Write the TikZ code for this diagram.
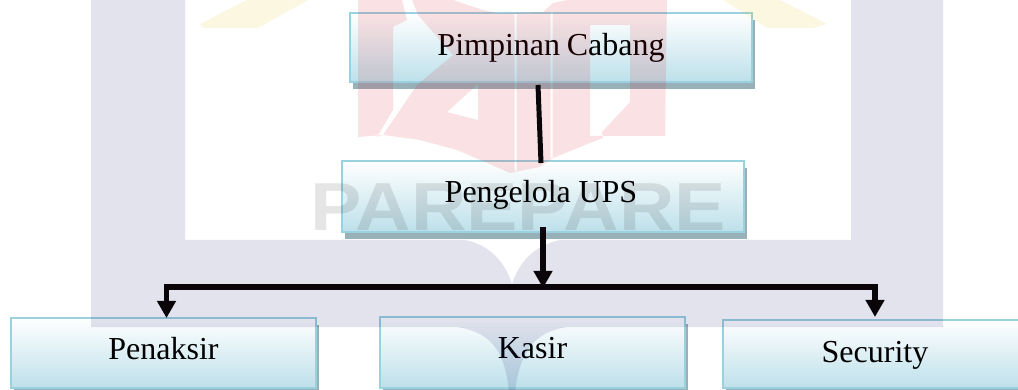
\documentclass[tikz,border=0pt]{standalone}
\usepackage{fontspec}
\setmainfont{Liberation Serif}
\newfontfamily\wmfont{Liberation Sans}
\usetikzlibrary{arrows.meta,shadows,calc}
\definecolor{edgeblue}{HTML}{9AD1DF}
\definecolor{boxbottom}{HTML}{BDE0EA}
\definecolor{boxmiddle}{HTML}{E6F3F7}
\definecolor{boxshadow}{HTML}{98B1B8}
\definecolor{ink}{HTML}{0A0508}
% colour + opacity pairs that behave like a multiply of the pale logo tints
\definecolor{wmlavk}{rgb}{0,0,0.36}
\definecolor{wmredk}{rgb}{0.86,0,0.07}
\definecolor{wmyelk}{rgb}{0.9,0.75,0}
\tikzset{
  orgbox/.style={rectangle,inner sep=0pt,outer sep=0pt,draw=edgeblue,line width=2.5pt,
    top color=white,middle color=boxmiddle,bottom color=boxbottom,
    general shadow={shadow xshift=3pt,shadow yshift=-7pt,fill=boxshadow},
    font=\fontsize{32}{36}\selectfont,align=center,text=black},
  plainlink/.style={draw=ink,line width=5pt},
  arrowlink/.style={draw=ink,line width=5.5pt,-{Triangle[width=18pt,length=17pt]}},
  wmlavender/.style={fill=wmlavk,fill opacity=0.11,draw=none},
  wmredtint/.style={fill=wmredk,fill opacity=0.114,draw=none},
  wmyellowtint/.style={fill=wmyelk,fill opacity=0.118,draw=none},
}
\begin{document}
\begin{tikzpicture}[x=1pt,y=-1pt]
\useasboundingbox (0,0) rectangle (1018,390);
\clip (0,0) rectangle (1018,390);
\fill[white] (0,0) rectangle (1018,390);
% boxes
\node[orgbox,text width=402pt,minimum height=69pt,text height=43pt,text depth=26pt] (pc) at (551,47.5) {Pimpinan\hspace{-4pt} Cabang};
\node[orgbox,text width=402pt,minimum height=71pt,text height=42pt,text depth=29pt] (pu) at (543,196.5) {\kern-4pt Pengelola\hspace{-3pt} UPS};
\node[orgbox,text width=305pt,minimum height=70pt,text height=41pt,text depth=29pt] (pn) at (163.5,353) {Penaksir};
\node[orgbox,text width=305pt,minimum height=71pt,text height=41pt,text depth=30pt] (ks) at (532.5,352.5) {Kasir};
\node[orgbox,text width=304pt,minimum height=68pt,text height=42pt,text depth=26pt] (sc) at (875,354) {Security};
% faint background logo, laid over the boxes
\fill[wmlavender,even odd rule] (91,-2) -- (943,-2) -- (943,327) -- (91,327) -- cycle
   (185,-2) -- (851,-2) -- (851,240) -- (560,240)
     .. controls (535,245) and (519,262) .. (512,284)
     .. controls (505,262) and (490,245) .. (465,240) -- (185,240) -- cycle;
\fill[wmlavender] (457,327) .. controls (490,332) and (505,350) .. (509,392) -- (515,392)
   .. controls (520,350) and (535,332) .. (567,327) -- cycle;
\fill[wmyellowtint] (200,24) -- (247,0) -- (308,0) -- (258,28) -- (203,28) -- cycle;
\fill[wmyellowtint] (723,0) -- (767,28) -- (813,28) -- (827,24) -- (780,0) -- cycle;
\fill[wmredtint,even odd rule] (358,0) -- (667,0) -- (665,136) -- (590,136) -- (590,143) -- (553,158) -- (540,167)
     -- (510,173) -- (457,150) -- (420,140) -- (383,135) -- (358,137) -- cycle
   (393,27) -- (407,20) -- (402,0) -- (412,0) -- (418,15) -- (453,55) -- (417,85)
     -- (383,135) -- (377,137) -- (393,110) -- cycle
   (453,0) -- (483,10) -- (497,13) -- (543,12) -- (553,3) -- (567,0) -- cycle
   (478,84) -- (447,112) -- (478,120) -- cycle
   (590,25) -- (630,25) -- (630,102) -- (602,132) -- (603,138) -- (590,143) -- cycle
   (514.5,14) rectangle (516.5,171)
   (550.5,12) rectangle (552.5,158);
\node[black,text opacity=0.1,inner sep=0pt,xscale=1.13,font=\wmfont\bfseries\fontsize{68}{68}\selectfont] (wm) at (518,207.5) {PAREPARE};
% connectors
\coordinate (bus) at (543,287);
\draw[plainlink] ([xshift=-13pt,yshift=-3pt]pc.south) -- ([xshift=-2pt,yshift=-2pt]pu.north);
\draw[arrowlink] ([yshift=5pt]pu.south) -- ([yshift=-1pt]bus);
\draw[draw=ink,line width=6pt] ([xshift=3pt]pn.north |- bus) -- (sc.north |- bus);
\draw[arrowlink] ([xshift=3pt]pn.north |- bus) ++(0,-3) -- ([xshift=3pt]pn.north);
\draw[arrowlink] (sc.north |- bus) ++(0,-3) -- ([yshift=3pt]sc.north);
\end{tikzpicture}
\end{document}
